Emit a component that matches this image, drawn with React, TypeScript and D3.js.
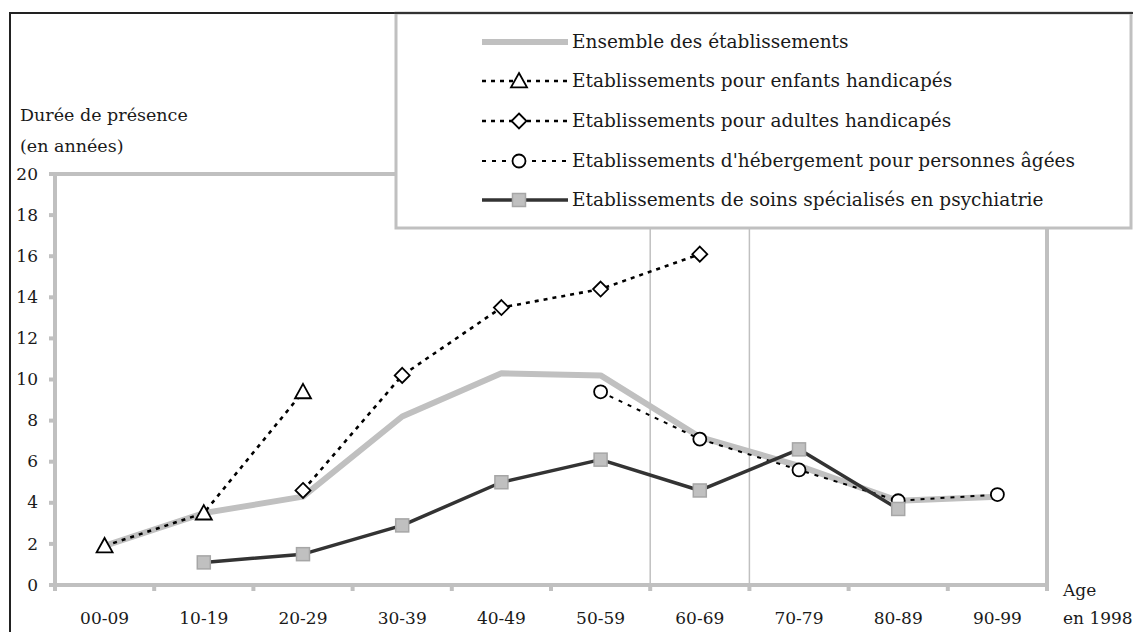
import React from "react";
import * as d3 from "d3";

const categories = ["00-09", "10-19", "20-29", "30-39", "40-49", "50-59", "60-69", "70-79", "80-89", "90-99"];
const yTicks = [0, 2, 4, 6, 8, 10, 12, 14, 16, 18, 20];
const ensemble: (number | null)[] = [1.9, 3.5, 4.3, 8.2, 10.3, 10.2, 7.2, 5.8, 4.1, 4.3];
const enfants: (number | null)[] = [1.9, 3.5, 9.4, null, null, null, null, null, null, null];
const adultes: (number | null)[] = [null, null, 4.6, 10.2, 13.5, 14.4, 16.1, null, null, null];
const ehpa: (number | null)[] = [null, null, null, null, null, 9.4, 7.1, 5.6, 4.1, 4.4];
const psy: (number | null)[] = [null, 1.1, 1.5, 2.9, 5.0, 6.1, 4.6, 6.6, 3.7, null];
const legendLabels = [
  "Ensemble des établissements",
  "Etablissements pour enfants handicapés",
  "Etablissements pour adultes handicapés",
  "Etablissements d'hébergement pour personnes âgées",
  "Etablissements de soins spécialisés en psychiatrie",
];
const gridCats = ["60-69", "70-79"];

const FONT = "DejaVu Serif";
const W = 1133, H = 632;
const GRAY = "#c0c0c0";
const TEXT = "#1a1a1a";

type Kind = "none" | "tri" | "dia" | "circ" | "sq";

function Marker({ kind, x, y }: { kind: Kind; x: number; y: number }) {
  if (kind === "tri") {
    const s = 8;
    return <path d={`M${x},${y - s}L${x + s},${y + s * 0.8}L${x - s},${y + s * 0.8}Z`} fill="#fff" stroke="#000" strokeWidth={1.8} />;
  }
  if (kind === "dia") {
    const s = 7.5;
    return <path d={`M${x},${y - s}L${x + s},${y}L${x},${y + s}L${x - s},${y}Z`} fill="#fff" stroke="#000" strokeWidth={1.8} />;
  }
  if (kind === "circ") {
    return <circle cx={x} cy={y} r={6.5} fill="#fff" stroke="#000" strokeWidth={1.8} />;
  }
  if (kind === "sq") {
    return <rect x={x - 6.5} y={y - 6.5} width={13} height={13} fill="#c0c0c0" stroke="#a6a6a6" strokeWidth={1.5} />;
  }
  return null;
}

export default function App() {
  const x0 = 55, x1 = 1047, yBottom = 585, yTop = 174;
  const x = d3.scaleBand<string>().domain(categories).range([x0, x1]);
  const y = d3.scaleLinear().domain([0, 20]).range([yBottom, yTop]);
  const cx = (c: string) => (x(c) as number) + x.bandwidth() / 2;

  const series = [
    { data: ensemble, stroke: GRAY, width: 6, dash: undefined as string | undefined, kind: "none" as Kind },
    { data: enfants, stroke: "#000", width: 2.6, dash: "4,5", kind: "tri" as Kind },
    { data: adultes, stroke: "#000", width: 2.6, dash: "4,5", kind: "dia" as Kind },
    { data: ehpa, stroke: "#000", width: 2, dash: "4,6", kind: "circ" as Kind },
    { data: psy, stroke: "#333", width: 3.5, dash: undefined as string | undefined, kind: "sq" as Kind },
  ];

  const line = d3
    .line<number | null>()
    .defined((d) => d !== null)
    .x((_, i) => cx(categories[i]))
    .y((d) => y(d as number));

  const legX = 396, legY = 13, legW = 735, legH = 215;
  const rowY = [42, 81, 121, 161, 200];

  return (
    <svg width={W} height={H} style={{ position: "absolute", left: 0, top: 0, fontFamily: FONT }}>
      <rect x={0} y={0} width={W} height={H} fill="#fff" />
      <path d={`M10,${H + 5}V13H${W + 5}`} fill="none" stroke="#222" strokeWidth={2} />

      {gridCats.map((c) => (
        <line key={c} x1={x(c) as number} x2={x(c) as number} y1={yTop} y2={yBottom} stroke={GRAY} strokeWidth={1.5} />
      ))}

      <rect x={x0} y={yTop} width={x1 - x0} height={yBottom - yTop} fill="none" stroke={GRAY} strokeWidth={4} />
      {yTicks.map((t) => (
        <g key={t}>
          <line x1={x0 - 6} x2={x0} y1={y(t)} y2={y(t)} stroke={GRAY} strokeWidth={4} />
          <text x={38} y={y(t)} dy="0.33em" textAnchor="end" fontSize={17} fill={TEXT}>{t}</text>
        </g>
      ))}
      {categories.map((c) => (
        <g key={c}>
          <line x1={x(c) as number} x2={x(c) as number} y1={yBottom} y2={yBottom + 6} stroke={GRAY} strokeWidth={4} />
          <text x={cx(c)} y={624} textAnchor="middle" fontSize={17} fill={TEXT}>{c}</text>
        </g>
      ))}
      <line x1={x1} x2={x1} y1={yBottom} y2={yBottom + 6} stroke={GRAY} strokeWidth={4} />

      <text x={20} y={121} fontSize={17.5} fill={TEXT}>Durée de présence</text>
      <text x={20} y={152} fontSize={17.5} fill={TEXT}>(en années)</text>
      <text x={1063} y={596} fontSize={17} fill={TEXT}>Age</text>
      <text x={1063} y={624} fontSize={17} fill={TEXT}>en 1998</text>

      {series.map((s, si) => (
        <g key={si}>
          <path d={line(s.data) || ""} fill="none" stroke={s.stroke} strokeWidth={s.width} strokeDasharray={s.dash} strokeLinejoin="round" />
          {s.data.map((d, i) => (d === null ? null : <Marker key={i} kind={s.kind} x={cx(categories[i])} y={y(d)} />))}
        </g>
      ))}

      <rect x={legX} y={legY} width={legW} height={legH} fill="#fff" stroke={GRAY} strokeWidth={3} />
      <line x1={legX - 2} x2={W} y1={13} y2={13} stroke="#333" strokeWidth={2} />
      {series.map((s, i) => (
        <g key={i}>
          <line x1={482} x2={568} y1={rowY[i]} y2={rowY[i]} stroke={s.stroke} strokeWidth={s.width} strokeDasharray={s.dash} />
          <Marker kind={s.kind} x={519} y={rowY[i]} />
          <text x={572} y={rowY[i]} dy="0.33em" fontSize={18.5} fill={TEXT}>{legendLabels[i]}</text>
        </g>
      ))}
    </svg>
  );
}
